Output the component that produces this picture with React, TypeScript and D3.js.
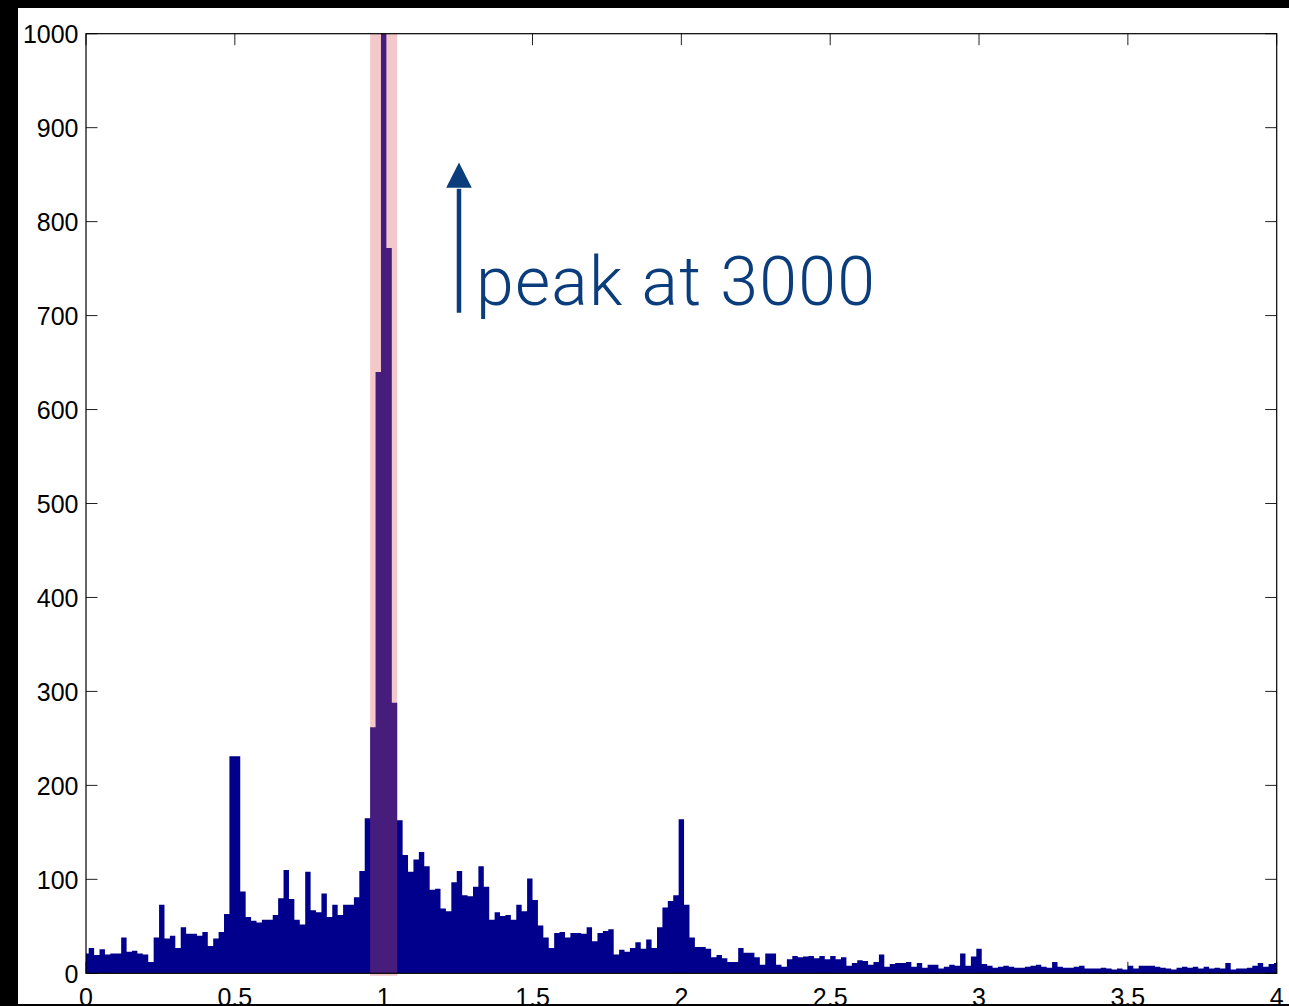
import React from "react";
import * as d3 from "d3";

// Histogram counts, bins centred at k * BIN_WIDTH (k = 0..220)
const COUNTS: number[] = [
  21, 27, 19.5, 25.5, 20, 21, 21, 38, 23, 24,
  21, 20, 12, 38, 73, 37, 40, 27, 49, 42,
  42, 40, 44, 29, 37, 44, 63, 231, 231, 87,
  60, 56, 54, 57, 57, 62, 80, 110, 79, 57,
  52, 108, 67, 65, 85, 60, 73, 62, 73, 73,
  81, 109, 165, 262, 640, 3000, 772, 288, 163, 126,
  108, 121, 129, 114, 89, 90, 69, 66, 97, 109,
  83, 82, 92, 114, 92, 57, 65, 61, 62, 57,
  73, 66, 101, 78, 51, 38, 27, 43, 44, 38,
  43, 43, 42, 49, 34, 43, 45, 47, 20, 25,
  23, 27, 33, 26, 36, 27, 49, 70, 77, 83,
  164, 73, 38, 28, 28, 26, 17, 19.5, 16, 12,
  12, 27, 22, 22, 17, 9, 21, 21, 9, 7,
  15, 18.5, 17, 18, 18.5, 16, 18.5, 15, 18.5, 15,
  17, 8, 11, 14, 13, 9, 12, 20, 7, 10,
  11, 11, 12, 7, 11, 6, 9, 9, 5, 7,
  9, 8, 21, 8, 18, 26, 10, 8, 6, 7,
  8, 7, 6, 6, 7, 8, 9, 7, 6, 12,
  7, 6, 6, 7, 8, 5, 5, 5, 6, 5,
  4, 5, 4, 8, 5, 8, 8, 8, 7, 6,
  5, 4, 6, 7, 6, 7, 5, 7, 5, 6,
  5, 11, 4, 5, 5, 6, 8, 11, 7, 10,
  11,
];
const BIN_WIDTH = 4 / 220;

const X_DOMAIN: [number, number] = [0, 4];
const Y_DOMAIN: [number, number] = [0, 1000];
const X_TICKS = [0, 0.5, 1, 1.5, 2, 2.5, 3, 3.5, 4];
const X_TICK_LABELS = ["0", "0.5", "1", "1.5", "2", "2.5", "3", "3.5", "4"];
const Y_TICKS = [0, 100, 200, 300, 400, 500, 600, 700, 800, 900, 1000];
const Y_TICK_LABELS = ["0", "100", "200", "300", "400", "500", "600", "700", "800", "900", "1000"];

// highlighted band (x range) around the peak
const HIGHLIGHT: [number, number] = [0.9545, 1.0455];

// annotation: arrow x, arrow bottom/head-base/tip values, label position
const ARROW_X = 1.253;
const ARROW_Y = [703, 836, 863];
const LABEL_POS: [number, number] = [1.31, 711.5];
const LABEL_TEXT = "peak at 3000";

const W = 1289;
const H = 1006;
const PLOT = { left: 86, right: 1276.7, top: 33.7, bottom: 973.3 };

export default function App() {
  const x = d3.scaleLinear().domain(X_DOMAIN).range([PLOT.left, PLOT.right]);
  const y = d3.scaleLinear().domain(Y_DOMAIN).range([PLOT.bottom, PLOT.top]).clamp(true);

  const pts: [number, number][] = [[0, 0]];
  COUNTS.forEach((v, k) => {
    const c = k * BIN_WIDTH;
    const x0 = Math.max(X_DOMAIN[0], c - BIN_WIDTH / 2);
    const x1 = Math.min(X_DOMAIN[1], c + BIN_WIDTH / 2);
    pts.push([x0, v], [x1, v]);
  });
  pts.push([X_DOMAIN[1], 0]);
  const line = d3
    .line<[number, number]>()
    .x((d) => x(d[0]))
    .y((d) => y(d[1]));
  const barPath = line(pts) + "Z";

  const tickLen = 11.5;
  const tickColor = "#222";
  const font = "'Liberation Sans', Arial, Helvetica, sans-serif";
  const annColor = "#0b3d7c";

  const ax = x(ARROW_X);
  const headHalf = 12.8;

  return (
    <svg
      width={W}
      height={H}
      style={{ position: "absolute", left: 0, top: 0, display: "block" }}
    >
      <rect x={0} y={0} width={W} height={H} fill="#000" />
      <rect x={18} y={8} width={W - 18} height={996} fill="#fff" />

      {/* ticks (under the bars) */}
      <g stroke={tickColor} strokeWidth={1}>
        {X_TICKS.map((t) => (
          <g key={"xt" + t}>
            <line x1={x(t)} x2={x(t)} y1={y(Y_DOMAIN[0])} y2={y(Y_DOMAIN[0]) - tickLen} />
            <line x1={x(t)} x2={x(t)} y1={y(Y_DOMAIN[1])} y2={y(Y_DOMAIN[1]) + tickLen} />
          </g>
        ))}
        {Y_TICKS.map((t) => (
          <g key={"yt" + t}>
            <line x1={x(X_DOMAIN[0])} x2={x(X_DOMAIN[0]) + tickLen} y1={y(t)} y2={y(t)} />
            <line x1={x(X_DOMAIN[1])} x2={x(X_DOMAIN[1]) - tickLen} y1={y(t)} y2={y(t)} />
          </g>
        ))}
      </g>

      {/* histogram */}
      <path d={barPath} fill="rgb(0,0,140)" stroke="none" />

      {/* highlight band */}
      <rect
        x={x(HIGHLIGHT[0])}
        y={y(Y_DOMAIN[1])}
        width={x(HIGHLIGHT[1]) - x(HIGHLIGHT[0])}
        height={y(Y_DOMAIN[0]) - y(Y_DOMAIN[1]) + 2.5}
        fill="rgb(215,86,92)"
        fillOpacity={0.325}
      />

      {/* axes box */}
      <rect
        x={x(X_DOMAIN[0])}
        y={y(Y_DOMAIN[1])}
        width={x(X_DOMAIN[1]) - x(X_DOMAIN[0])}
        height={y(Y_DOMAIN[0]) - y(Y_DOMAIN[1])}
        fill="none"
        stroke="#000"
        strokeWidth={1.2}
      />

      {/* tick labels */}
      <g fontFamily={font} fontSize={25} fill="#000">
        {Y_TICKS.map((t, i) => (
          <text key={"yl" + t} x={x(X_DOMAIN[0]) - 7.5} y={y(t) + 9.5} textAnchor="end">
            {Y_TICK_LABELS[i]}
          </text>
        ))}
        {X_TICKS.map((t, i) => (
          <text key={"xl" + t} x={x(t)} y={y(Y_DOMAIN[0]) + 32.5} textAnchor="middle">
            {X_TICK_LABELS[i]}
          </text>
        ))}
      </g>

      {/* annotation */}
      <line
        x1={ax}
        x2={ax}
        y1={y(ARROW_Y[0])}
        y2={y(ARROW_Y[1]) + 1}
        stroke={annColor}
        strokeWidth={4.5}
      />
      <polygon
        points={`${ax},${y(ARROW_Y[2])} ${ax - headHalf},${y(ARROW_Y[1])} ${ax + headHalf},${y(ARROW_Y[1])}`}
        fill={annColor}
      />
      <text
        x={x(LABEL_POS[0])}
        y={y(LABEL_POS[1])}
        fontFamily="Roboto, 'Liberation Sans', Arial, sans-serif"
        fontWeight={300}
        fontSize={68}
        textLength={399}
        lengthAdjust="spacing"
        fill={annColor}
      >
        {LABEL_TEXT}
      </text>

      {/* bottom black strip */}
      <rect x={0} y={1004} width={W} height={2} fill="#000" />
    </svg>
  );
}
